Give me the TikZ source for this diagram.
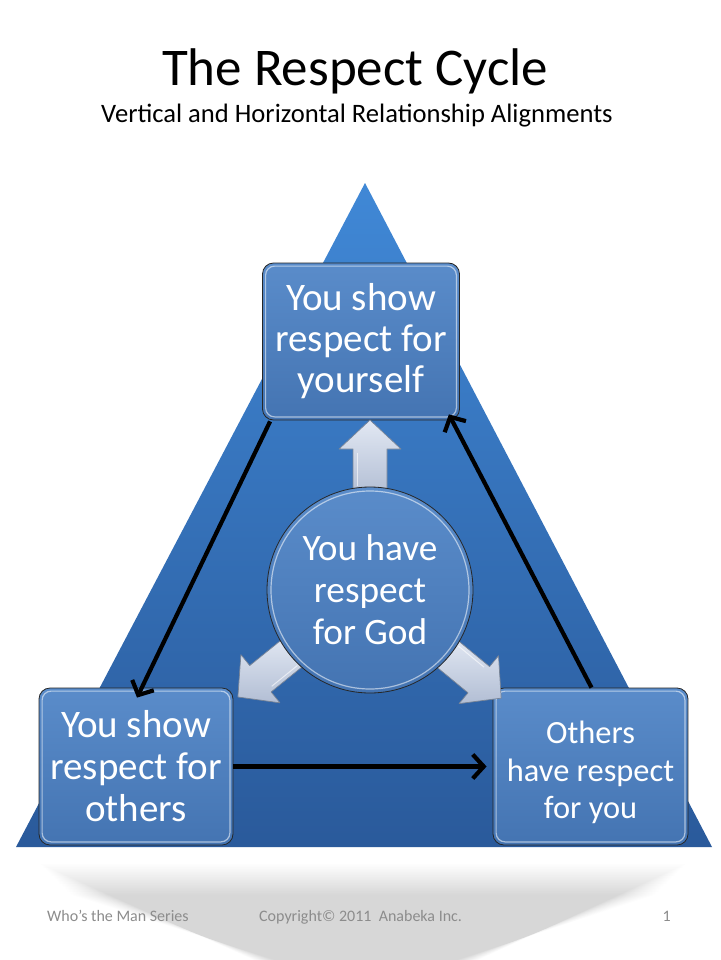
\documentclass[tikz,border=0pt]{standalone}
\usepackage{fontspec}
\setmainfont{Carlito}
\usetikzlibrary{arrows.meta,calc}
\definecolor{triTop}{RGB}{64,136,214}
\definecolor{triBot}{RGB}{42,90,155}
\definecolor{boxTop}{RGB}{90,140,202}
\definecolor{boxBot}{RGB}{68,116,178}
\definecolor{arrFillA}{RGB}{226,232,243}
\definecolor{arrFillB}{RGB}{178,190,212}
\definecolor{arrEdge}{RGB}{120,132,150}
\definecolor{footGray}{RGB}{140,140,140}
\tikzset{
  stepbox/.style={rectangle, rounded corners=11pt, draw=black!85, line width=0.8pt,
    top color=boxTop, bottom color=boxBot, text=white, align=center, inner sep=0pt},
  boxtext/.style={text=white, align=center, inner sep=0pt},
  godcircle/.style={circle, draw=black!85, line width=0.8pt, inner sep=0pt,
    top color=boxTop, bottom color=boxBot, text=white, align=center, minimum size=206pt},
  hilite/.style={draw=white, draw opacity=0.55, line width=1.2pt, rounded corners=9pt},
  cycline/.style={draw=black, line width=4.2pt, -{Straight Barb[length=11pt,width=24pt]}},
  blockarrow/.style={top color=arrFillA, bottom color=arrFillB, draw=arrEdge, line width=0.7pt, line join=round},
  foot/.style={text=footGray, font=\fontsize{16}{19}\selectfont, inner sep=0pt}
}
\begin{document}
\begin{tikzpicture}[x=1pt, y=-1pt]
\useasboundingbox (0,0) rectangle (720,960);
\fill[white] (0,0) rectangle (720,960);

% soft shadow below triangle
\foreach \k in {0,...,19}{
  \fill[black, fill opacity=0.0088]
    ({40+1.6*\k},{864+1.6*\k}) -- ({686-1.6*\k},{864+1.6*\k}) -- ({478-1.1*\k},960) -- ({254+1.1*\k},960) -- cycle;
}

% title
\node[anchor=base, inner sep=0pt, font=\fontsize{53}{60}\selectfont] (title) at (355,86) {The Respect Cycle};
\node[anchor=base, inner sep=0pt, font=\fontsize{26.6}{30}\selectfont] (subtitle) at (357,123) {Vertical and Horizontal Relationship Alignments};

% triangle
\shade[top color=triTop, bottom color=triBot] (365,183) -- (712,847) -- (16,847) -- cycle;

% boxes
\node[stepbox, minimum width=197pt, minimum height=157pt,
  font=\fontsize{39}{41}\selectfont] (top) at (361,341.5) {You show\\respect for\\yourself};
\node[stepbox, minimum width=194pt, minimum height=157pt,
  font=\fontsize{39}{42}\selectfont] (left) at (136,766.5) {You show\\respect for\\others};
\node[stepbox, minimum width=195pt, minimum height=157pt] (right) at (590.5,766.5) {};
\node[boxtext, font=\fontsize{32.4}{37.5}\selectfont] (righttext) at ($(right.center)+(0,6)$) {Others\\have respect\\for you};

\foreach \b in {top,left,right}{
  \draw[hilite] ($(\b.south west)+(3.5,-3.5)$) rectangle ($(\b.north east)+(-3.5,3.5)$);
}

% central circle position
\coordinate (godc) at (370,590);

% block arrows from the centre
\foreach \ang in {90,219,-39.5}{
  \begin{scope}[shift={(godc)}, rotate=\ang]
    \path[blockarrow] (95,17) -- (141,17) -- (141,31) -- (170,0) -- (141,-31) -- (141,-17) -- (95,-17) -- cycle;
    \draw[white, opacity=0.6, line width=1pt] (104,-13) -- (137,-13);
  \end{scope}
}

\node[godcircle, font=\fontsize{37.3}{42}\selectfont] (god) at (godc) {You have\\respect\\for God};
\draw[white, opacity=0.55, line width=1.2pt] (god.center) circle (99pt);

% cycle arrows
\draw[cycline] ($(top.south west)+(8,1)$) -- ($(left.north)+(1,10)$);
\draw[cycline] ($(right.north)+(1,0)$) -- ($(top.south east)+(-11,-6)$);
\draw[cycline, shorten >=6pt] (left.east) -- (right.west);

% footer
\node[foot, anchor=base west] (f1) at (47,921) {Who's the Man Series};
\node[foot, anchor=base west] (f2) at (259,921) {Copyright© 2011\ \ Anabeka Inc.};
\node[foot, anchor=base east] (f3) at (671,921) {1};
\end{tikzpicture}
\end{document}
